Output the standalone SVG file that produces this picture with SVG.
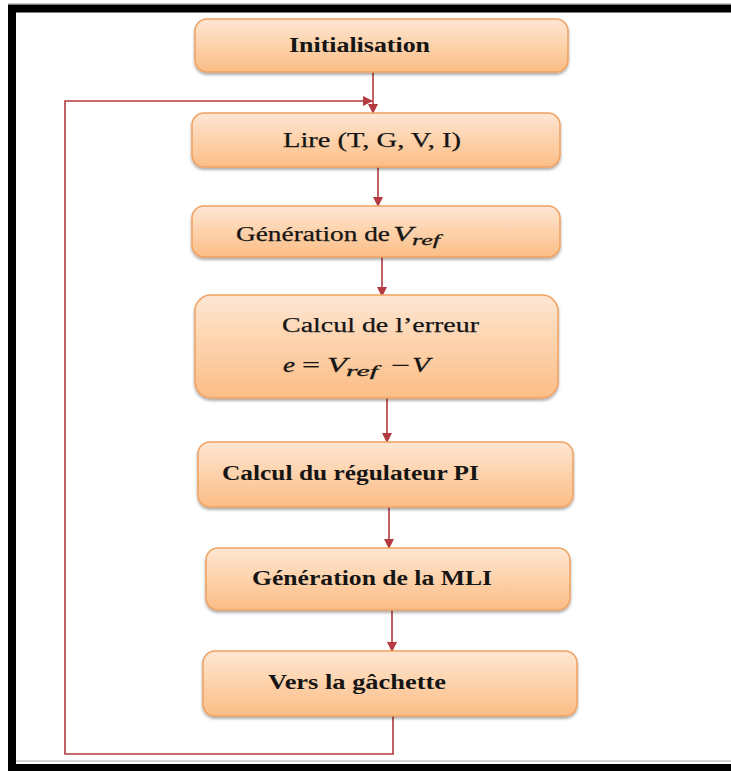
<svg xmlns="http://www.w3.org/2000/svg" width="731" height="771" viewBox="0 0 731 771">
  <defs>
    <linearGradient id="boxFill" x1="0" y1="0" x2="0" y2="1">
      <stop offset="0" stop-color="#fee6d3"/>
      <stop offset="0.5" stop-color="#fdd2ab"/>
      <stop offset="1" stop-color="#fbbd86"/>
    </linearGradient>
    <filter id="shadow" x="-5%" y="-10%" width="110%" height="130%">
      <feGaussianBlur in="SourceAlpha" stdDeviation="1.5"/>
      <feOffset dx="0" dy="2" result="b"/>
      <feComponentTransfer><feFuncA type="linear" slope="0.35"/></feComponentTransfer>
      <feMerge><feMergeNode/><feMergeNode in="SourceGraphic"/></feMerge>
    </filter>
    <marker id="arrow" viewBox="0 0 10 10" refX="9" refY="5" markerWidth="10" markerHeight="10" markerUnits="userSpaceOnUse" orient="auto">
      <path d="M0,0 L10,5 L0,10 Z" fill="#b23a40"/>
    </marker>
    <style>
      .box { fill: url(#boxFill); stroke: #f0a160; stroke-width: 1.5; filter: url(#shadow); }
      .lbl { font-family: "Liberation Serif", "Times New Roman", serif; font-size: 20px; fill: #151515; stroke: #151515; stroke-width: 0.25; }
      .b { font-weight: bold; stroke-width: 0; }
      .math { font-family: "Liberation Serif", "Times New Roman", serif; font-style: italic; fill: #151515; stroke: #151515; stroke-width: 0.3; }
      .conn { stroke: #b23a40; stroke-width: 1.6; fill: none; }
    </style>
  </defs>

  <rect x="0" y="0" width="731" height="771" fill="#ffffff"/>
  <!-- page frame -->
  <rect x="12" y="8.5" width="740" height="759.5" fill="none" stroke="#000000" stroke-width="8"/>
  <line x1="16" y1="761" x2="731" y2="761" stroke="#c8c8c8" stroke-width="1.5"/>
  <line x1="8" y1="3.5" x2="731" y2="3.5" stroke="#c8c8c8" stroke-width="1"/>

  <g id="connectors">
    <line class="conn" x1="373" y1="72" x2="373" y2="113" marker-end="url(#arrow)"/>
    <line class="conn" x1="378" y1="167" x2="378" y2="206" marker-end="url(#arrow)"/>
    <line class="conn" x1="382" y1="257" x2="382" y2="296" marker-end="url(#arrow)"/>
    <line class="conn" x1="387" y1="398" x2="387" y2="442" marker-end="url(#arrow)"/>
    <line class="conn" x1="389" y1="507" x2="389" y2="548" marker-end="url(#arrow)"/>
    <line class="conn" x1="392" y1="610" x2="392" y2="651" marker-end="url(#arrow)"/>
    <!-- loop back from the last step to the reading step -->
    <polyline class="conn" points="393,716 393,754 65,754 65,101 372,101" marker-end="url(#arrow)"/>
  </g>

  <g id="init">
    <rect class="box" x="195" y="19" width="373" height="53" rx="12"/>
    <text class="lbl b" x="289" y="52" textLength="141" lengthAdjust="spacingAndGlyphs">Initialisation</text>
  </g>

  <g id="lire">
    <rect class="box" x="192" y="113" width="368" height="54" rx="12"/>
    <text class="lbl" x="283" y="147" textLength="178" lengthAdjust="spacingAndGlyphs">Lire (T, G, V, I)</text>
  </g>

  <g id="gen-vref">
    <rect class="box" x="192" y="206" width="368" height="51" rx="12"/>
    <text class="lbl" x="236" y="241" textLength="154" lengthAdjust="spacingAndGlyphs">Génération de</text>
    <text class="math" x="393" y="241" font-size="22" textLength="20" lengthAdjust="spacingAndGlyphs">V</text>
    <text class="math" x="412" y="245" font-size="15" textLength="28" lengthAdjust="spacingAndGlyphs">ref</text>
  </g>

  <g id="erreur">
    <rect class="box" x="195" y="295" width="363" height="103" rx="16"/>
    <text class="lbl" x="282" y="332" textLength="197" lengthAdjust="spacingAndGlyphs">Calcul de l’erreur</text>
    <text class="math" x="283" y="372" font-size="22" textLength="12" lengthAdjust="spacingAndGlyphs">e</text>
    <text class="lbl" x="302" y="372" font-size="22" textLength="18" lengthAdjust="spacingAndGlyphs">=</text>
    <text class="math" x="327" y="372" font-size="22" textLength="20" lengthAdjust="spacingAndGlyphs">V</text>
    <text class="math" x="346" y="376" font-size="15" textLength="32" lengthAdjust="spacingAndGlyphs">ref</text>
    <text class="lbl" x="391" y="372" font-size="22" textLength="19" lengthAdjust="spacingAndGlyphs">−</text>
    <text class="math" x="412" y="372" font-size="22" textLength="18" lengthAdjust="spacingAndGlyphs">V</text>
  </g>

  <g id="pi">
    <rect class="box" x="198" y="442" width="375" height="65" rx="12"/>
    <text class="lbl b" x="222" y="480" textLength="257" lengthAdjust="spacingAndGlyphs">Calcul du régulateur PI</text>
  </g>

  <g id="mli">
    <rect class="box" x="206" y="548" width="364" height="62" rx="12"/>
    <text class="lbl b" x="252" y="585" textLength="240" lengthAdjust="spacingAndGlyphs">Génération de la MLI</text>
  </g>

  <g id="gachette">
    <rect class="box" x="203" y="651" width="374" height="65" rx="12"/>
    <text class="lbl b" x="268" y="689" textLength="178" lengthAdjust="spacingAndGlyphs">Vers la gâchette</text>
  </g>
</svg>
